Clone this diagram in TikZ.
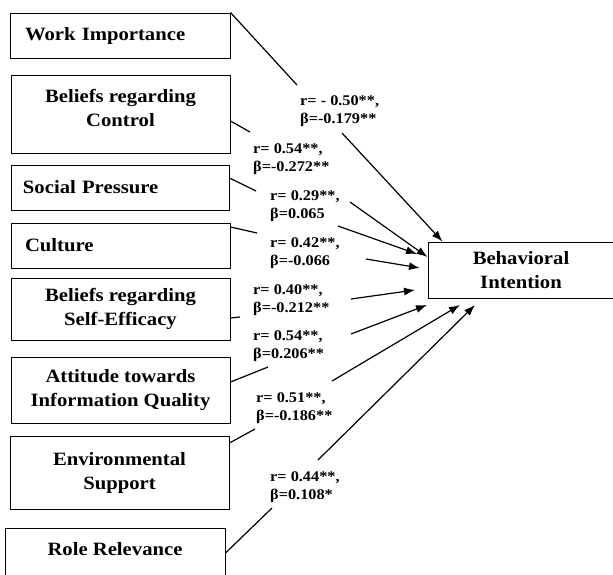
\documentclass[tikz,border=0pt]{standalone}
\usepackage{fontspec}
\setmainfont{Liberation Serif}[FakeStretch=1.1]
\usetikzlibrary{arrows.meta}
\begin{document}
\begin{tikzpicture}[x=1pt,y=-1pt,
  varbox/.style={draw, line width=1pt, font=\bfseries\fontsize{18.8}{24}\selectfont, inner sep=0pt, align=center},
  lbl/.style={font=\bfseries\fontsize{14.8}{18}\selectfont, align=left, inner sep=0pt, anchor=base west},
  ln/.style={line width=1.2pt},
  arr/.style={line width=1.2pt, -{Latex[length=11pt,width=8pt]}}]
\useasboundingbox (0,0) rectangle (613,574);
% boxes
\node[varbox, minimum width=220pt, minimum height=45pt, text width=190pt, align=left, inner xsep=15pt] (wi) at (120,35.5) {Work Importance};
\node[varbox, minimum width=219pt, minimum height=78pt] (bc) at (120.5,114) {Beliefs regarding\\Control\\[-12pt]\mbox{}};
\node[varbox, minimum width=218pt, minimum height=45pt, text width=194pt, align=left, inner xsep=12pt] (sp) at (120,187.5) {Social Pressure};
\node[varbox, minimum width=219pt, minimum height=45pt, text width=191pt, align=left, inner xsep=14pt] (cu) at (120.5,245.5) {Culture};
\node[varbox, minimum width=219pt, minimum height=62pt] (se) at (120.5,309) {Beliefs regarding\\Self-Efficacy};
\node[varbox, minimum width=219pt, minimum height=66pt] (ai) at (120.5,390) {Attitude towards\\Information Quality};
\node[varbox, minimum width=219pt, minimum height=73pt] (es) at (119.5,472.5) {Environmental\\Support};
\node[varbox, minimum width=220pt, minimum height=62pt, text height=12pt, text depth=20pt] (rr) at (115,559) {Role Relevance};
\node[varbox, minimum width=186pt, minimum height=56pt] (bi) at (521,270) {Behavioral\\Intention};
% labels (anchor at the baseline of the second line)
\node[lbl] (l1) at (300,123) {r= - 0.50**,\\β=-0.179**};
\node[lbl] (l2) at (253,171) {r= 0.54**,\\β=-0.272**};
\node[lbl] (l3) at (270,218) {r= 0.29**,\\β=0.065};
\node[lbl] (l4) at (270,265) {r= 0.42**,\\β=-0.066};
\node[lbl] (l5) at (253,312) {r= 0.40**,\\β=-0.212**};
\node[lbl] (l6) at (253,358) {r= 0.54**,\\β=0.206**};
\node[lbl] (l7) at (256,420) {r= 0.51**,\\β=-0.186**};
\node[lbl] (l8) at (270,499) {r= 0.44**,\\β=0.108*};
% stub ends
\coordinate (p1) at (297,85);
\coordinate (p2) at (250,132);
\coordinate (p3) at (256,191);
\coordinate (p4) at (257,233);
\coordinate (p5) at (240,317);
\coordinate (p6) at (268,367);
\coordinate (p7) at (255,429);
\coordinate (p8) at (272,508);
% arrow starts
\coordinate (q1) at (342,133);
\coordinate (q2) at (350,202);
\coordinate (q3) at (338,226);
\coordinate (q4) at (366,259);
\coordinate (q5) at (351,299);
\coordinate (q6) at (351,334);
\coordinate (q7) at (332,381);
\coordinate (q8) at (318,460);
% arrow tips
\coordinate (t1) at ([xshift=15pt]bi.north west);
\coordinate (t2) at (bi.west |- 0,257);
\coordinate (t3) at (417,254);
\coordinate (t4) at (420,268);
\coordinate (t5) at (415,290);
\coordinate (t6) at (427,305);
\coordinate (t7) at (460,305);
\coordinate (t8) at (475,305);
% stubs
\draw[ln] (wi.north east) -- (p1);
\draw[ln] (bc.east |- 0,121) -- (p2);
\draw[ln] (sp.east |- 0,178) -- (p3);
\draw[ln] (cu.east |- 0,227) -- (p4);
\draw[ln] (se.east |- 0,318) -- (p5);
\draw[ln] (ai.east |- 0,382) -- (p6);
\draw[ln] (es.east |- 0,443) -- (p7);
\draw[ln] (rr.east |- 0,553) -- (p8);
% arrows
\draw[arr] (q1) -- (t1);
\draw[arr] (q2) -- (t2);
\draw[arr] (q3) -- (t3);
\draw[arr] (q4) -- (t4);
\draw[arr] (q5) -- (t5);
\draw[arr] (q6) -- (t6);
\draw[arr] (q7) -- (t7);
\draw[arr] (q8) -- (t8);
\end{tikzpicture}
\end{document}
